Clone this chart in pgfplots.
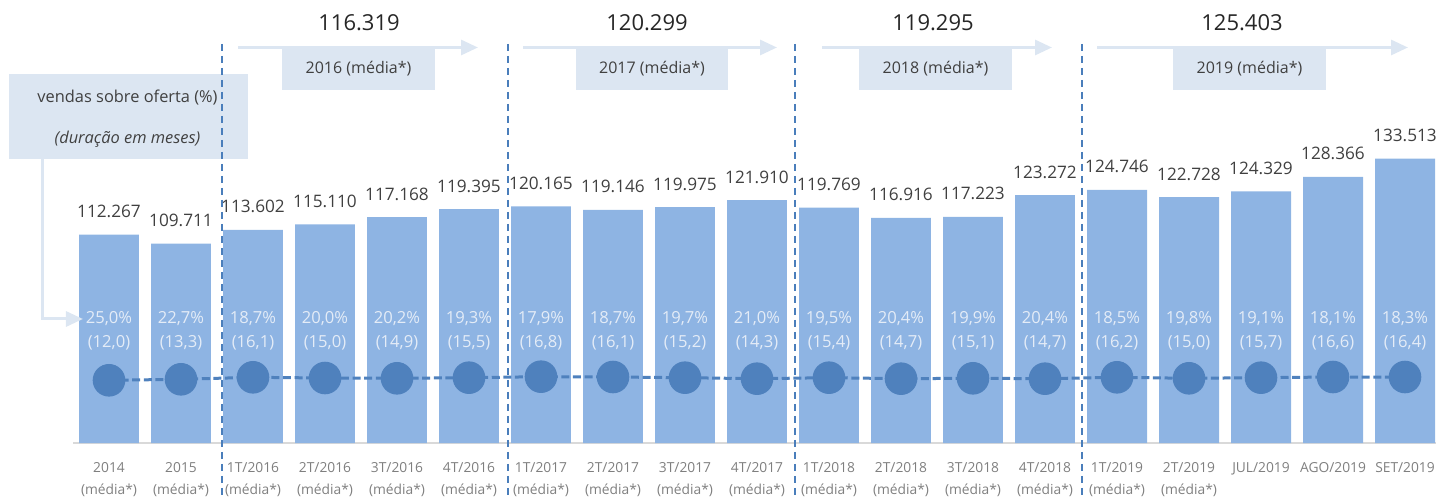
\documentclass[border=0pt]{standalone}
\usepackage{fontspec}
\setmainfont{Open Sans}
\usepackage{pgfplots}
\usepackage{pgfplotstable}
\pgfplotsset{compat=1.18}
\usetikzlibrary{arrows.meta}
\pgfkeys{/pgf/number format/assume math mode=true}

\definecolor{barblue}{HTML}{8EB4E3}
\definecolor{dotblue}{HTML}{4F81BD}
\definecolor{lineblue}{HTML}{4A7EBB}
\definecolor{boxfill}{HTML}{DCE6F2}
\definecolor{axisgray}{HTML}{D9D9D9}
\definecolor{ticktext}{HTML}{7F7F7F}
\definecolor{valtext}{HTML}{404040}
\definecolor{toptext}{HTML}{262626}
\definecolor{innertext}{HTML}{E4ECF7}

% i = position, vol = bar value, pct = vendas sobre oferta, dur = meses, circ = dot level
\pgfplotstableread{
i  vol      pct   dur   circ
0  112.267  25.0  12.0  71.53
1  109.711  22.7  13.3  71.81
2  113.602  18.7  16.1  72.37
3  115.110  20.0  15.0  72.17
4  117.168  20.2  14.9  72.09
5  119.395  19.3  15.5  72.26
6  120.165  17.9  16.8  72.54
7  119.146  18.7  16.1  72.45
8  119.975  19.7  15.2  72.26
9  121.910  21.0  14.3  71.98
10 119.769  19.5  15.4  72.26
11 116.916  20.4  14.7  71.98
12 117.223  19.9  15.1  72.09
13 123.272  20.4  14.7  71.98
14 124.746  18.5  16.2  72.37
15 122.728  19.8  15.0  72.09
16 124.329  19.1  15.7  72.26
17 128.366  18.1  16.6  72.45
18 133.513  18.3  16.4  72.45
}\vendas

\begin{document}
\begin{tikzpicture}
\begin{axis}[
  x=36pt, y=1.7885pt,
  xmin=-0.5, xmax=18.43,
  ymin=54, ymax=177.85,
  axis x line=bottom, axis y line=none,
  x axis line style={-, draw=axisgray, line width=1pt},
  major tick length=0pt,
  xtick={0,...,18},
  xticklabels={{2014\\(média*)},{2015\\(média*)},
    {1T/2016\\(média*)},{2T/2016\\(média*)},{3T/2016\\(média*)},{4T/2016\\(média*)},
    {1T/2017\\(média*)},{2T/2017\\(média*)},{3T/2017\\(média*)},{4T/2017\\(média*)},
    {1T/2018\\(média*)},{2T/2018\\(média*)},{3T/2018\\(média*)},{4T/2018\\(média*)},
    {1T/2019\\(média*)},{2T/2019\\(média*)},{JUL/2019},{AGO/2019},{SET/2019}},
  xticklabel style={font=\fontsize{6.9}{11}\selectfont, text=ticktext,
    align=center, anchor=north, inner sep=0pt, yshift=-9.5pt},
  ytick=\empty,
]
\coordinate (pxo) at (axis cs:-1.5139,177.85);

% bars
\addplot[ybar, bar width=0.833, fill=barblue, draw=none,
  nodes near coords={\pgfmathprintnumber[fixed,fixed zerofill,precision=3]{\pgfplotspointmeta}},
  every node near coord/.append style={anchor=base, inner sep=0pt, yshift=8.5pt,
    text=valtext, font=\fontsize{8.6}{10}\selectfont}]
  table[x=i, y=vol] {\vendas};

% percentage inside the bars
\addplot[only marks, mark=*, mark size=0pt, mark options={draw=none, fill=none},
  point meta=\thisrow{pct},
  nodes near coords={\pgfmathprintnumber[fixed,fixed zerofill,precision=1,use comma]{\pgfplotspointmeta}\%},
  every node near coord/.append style={anchor=base, inner sep=0pt,
    text=innertext, font=\fontsize{8.3}{9}\selectfont}]
  table[x=i, y expr=87.27] {\vendas};

% duration inside the bars
\addplot[only marks, mark=*, mark size=0pt, mark options={draw=none, fill=none},
  point meta=\thisrow{dur},
  nodes near coords={(\pgfmathprintnumber[fixed,fixed zerofill,precision=1,use comma]{\pgfplotspointmeta})},
  every node near coord/.append style={anchor=base, inner sep=0pt,
    text=innertext, font=\fontsize{8.3}{9}\selectfont}]
  table[x=i, y expr=80.56] {\vendas};

% dots
\addplot[dotblue, line width=1.5pt, dash pattern=on 4pt off 1.8pt,
  mark=*, mark size=7.4pt, mark options={solid, draw=none, fill=dotblue}]
  table[x=i, y=circ] {\vendas};
\end{axis}

\begin{scope}[shift={(pxo)}, x=0.5pt, y=-0.5pt]
  % legend box
  \fill[boxfill] (9,74) rectangle (248,159);
  \node[text=valtext, font=\fontsize{8.2}{9}\selectfont] at (127.5,98) {vendas sobre oferta (\%)};
  \node[text=valtext, font=\fontsize{8.2}{9}\selectfont\itshape] at (127.5,139) {(duração em meses)};
  \draw[boxfill, line width=1.5pt, -{Triangle[length=8.5pt,width=7.5pt]}]
    (42.5,159) -- (42.5,319) -- (83,319);
  % year arrows and boxes
  \foreach \xa/\xb/\ba/\bb/\val/\yr in {
      238/478/282/435/116.319/2016,
      523/777/576/728/120.299/2017,
      822/1052/859/1012/119.295/2018,
      1097/1408/1173/1326/125.403/2019} {
    \draw[boxfill, line width=1.5pt, -{Triangle[length=8.5pt,width=7.5pt]}]
      (\xa,47.5) -- (\xb,47.5);
    \fill[boxfill] (\ba,48) rectangle (\bb,90);
    \node[text=valtext, font=\fontsize{8}{9}\selectfont] at ({(\ba+\bb)/2},69) {\yr\ (média*)};
  }
  \node[text=toptext, font=\fontsize{11}{12}\selectfont] at (359,23) {116.319};
  \node[text=toptext, font=\fontsize{11}{12}\selectfont] at (647,23) {120.299};
  \node[text=toptext, font=\fontsize{11}{12}\selectfont] at (933,23) {119.295};
  \node[text=toptext, font=\fontsize{11}{12}\selectfont] at (1242,23) {125.403};
  % separators
  \foreach \xs in {222,508,795,1082}
    \draw[lineblue, line width=1pt, dash pattern=on 3.5pt off 2.5pt] (\xs,44) -- (\xs,497);
\end{scope}

\pgfresetboundingbox
\path[use as bounding box] (pxo) rectangle ++(718pt,-248.5pt);
\end{tikzpicture}
\end{document}
